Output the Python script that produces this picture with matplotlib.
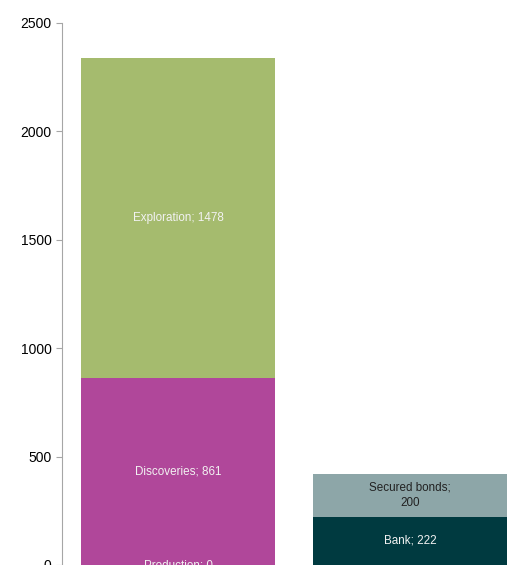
import matplotlib.pyplot as plt

# --- data ---
bars = ["Uses", "Sources"]
uses_labels = ["Production", "Discoveries", "Exploration"]
uses_values = [0, 861, 1478]
uses_colors = ["#B0479A", "#B0479A", "#A5BB6E"]
src_labels = ["Bank", "Secured bonds"]
src_values = [222, 200]
src_colors = ["#003A40", "#8DA6A8"]
src_text = ["#F2F2F2", "#222222"]
src_fmt = ["{}; {}", "{};\n{}"]

plt.rcParams["font.family"] = ["Liberation Sans", "DejaVu Sans"]

fig = plt.figure(figsize=(5.23, 5.65), dpi=100)
ax = fig.add_axes([62 / 523, 0.0, 464 / 523, (565 - 23) / 565])

w = 0.836
bottom = 0
for lab, val, col in zip(uses_labels, uses_values, uses_colors):
    ax.bar(0, val, width=w, bottom=bottom, color=col)
    ax.text(0, bottom + val / 2, f"{lab}; {val}", ha="center", va="center",
            color="#F2F2F2", fontsize=8.4)
    bottom += val

bottom = 0
for lab, val, col, tc, fmt in zip(src_labels, src_values, src_colors, src_text, src_fmt):
    ax.bar(1, val, width=w, bottom=bottom, color=col)
    ax.text(1, bottom + val / 2, fmt.format(lab, val), ha="center", va="center",
            color=tc, fontsize=8.4, linespacing=1.45)
    bottom += val

ax.set_xlim(-0.5, 1.5)
ax.set_ylim(0, 2500)
ax.set_yticks([0, 500, 1000, 1500, 2000, 2500])
ax.set_xticks([])
for s in ["top", "right", "bottom"]:
    ax.spines[s].set_visible(False)
ax.spines["left"].set_color("#A6A6A6")
ax.tick_params(axis="y", colors="#A6A6A6", labelcolor="black", labelsize=10, length=4)

fig.savefig("out.png", dpi=100)
